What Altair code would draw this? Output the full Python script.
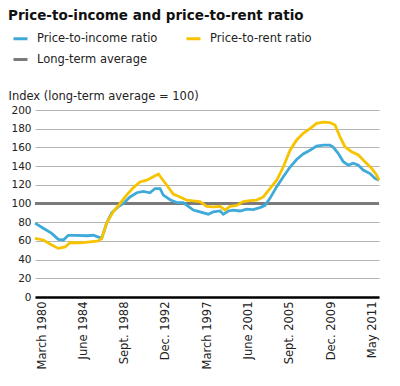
import altair as alt
import pandas as pd

# Quarter index: 0 = March 1980, 17 quarters between labelled ticks
income_q = [-2.9, 0.5, 4, 6.7, 8.8, 10.8, 14.3, 18.4, 21.1, 23.2, 24.6, 26.6, 28.7, 31.4, 33.5,
            36.2, 39, 41.7, 44.4, 46.5, 48.6, 49.9, 52.7, 55.4, 58.1, 60.2, 62.3, 65, 68.4, 70.5,
            73.3, 74.6, 76.7, 78.7, 81.5, 84.2, 86.9, 89.7, 91.8, 93.8, 96.6, 99.3, 102.1, 104.8,
            107.5, 110.3, 113, 115.8, 118.5, 119.9, 121.9, 124, 126.1, 128.1, 130.2, 132.2, 135,
            137, 138.7]
income_v = [79, 73.5, 68, 61.7, 61, 66, 66, 65.5, 66, 64, 63, 79, 90, 96.6, 100,
            107, 111.5, 113, 111.5, 116, 116, 109, 104, 101, 101, 97, 93, 91, 88.6, 91,
            92, 88.6, 92, 93, 92, 94, 93.5, 95.6, 98, 105.5, 118, 128.7, 139, 147,
            153, 157, 161.5, 162.5, 162.5, 160, 153.6, 144.7, 141, 143, 141, 135.8, 132,
            127, 125]

rent_q = [-2.9, 0.5, 4, 6.7, 9.5, 11.5, 15.6, 19.8, 23.2, 24.6, 26.6, 29.3, 32.1, 34.8, 37.6,
          40.3, 43.1, 45.8, 47.9, 49.2, 51.3, 54, 56.8, 59.5, 62.3, 65, 67.8, 70.5, 73.3, 75.3,
          77.4, 80.1, 82.8, 85.6, 88.3, 91.1, 93.8, 96.6, 99.3, 102.1, 104.8, 107.5, 110.3, 113,
          115.8, 118.5, 120.6, 122.6, 124.7, 127.4, 130.2, 132.9, 135.7, 137.7, 138.7]
rent_v = [62.7, 61, 55.6, 52, 53.5, 58, 58, 59, 60, 62.7, 79, 91, 100, 109, 117,
          123, 125, 128.7, 131.5, 127, 119.8, 110, 107, 103.7, 102.7, 102, 97, 96.5, 97, 93,
          97, 98, 102, 103, 103.7, 107, 116, 125, 139, 157, 168, 175, 180, 185.7,
          187, 186.6, 184, 171.4, 160.7, 155.4, 151.9, 144.7, 137.6, 130.5, 125]

avg_q = [-2.9, 138.7]
avg_v = [100, 100]

tick_q = [0, 17, 34, 51, 68, 85, 102, 119, 136]
tick_labels = ["March 1980", "June 1984", "Sept. 1988", "Dec. 1992",
               "March 1997", "June 2001", "Sept. 2005", "Dec. 2009", "May 2011"]

series = ["Price-to-income ratio", "Price-to-rent ratio", "Long-term average"]
colors = ["#3fa9d8", "#f7c300", "#7a7a7a"]

df = pd.concat([
    pd.DataFrame({"q": income_q, "v": income_v, "s": series[0]}),
    pd.DataFrame({"q": rent_q, "v": rent_v, "s": series[1]}),
])
df_avg = pd.DataFrame({"q": avg_q, "v": avg_v, "s": series[2]})

label_expr = "[" + ",".join("'%s'" % t for t in tick_labels) + "][indexof([" + \
    ",".join(str(t) for t in tick_q) + "], datum.value)]"

FONT = "DejaVu Sans"

x = alt.X("q:Q", scale=alt.Scale(domain=[-2.9, 138.7], nice=False, zero=False),
          axis=alt.Axis(values=tick_q, labelExpr=label_expr, labelAngle=-90, title=None,
                        grid=False, ticks=False, domainColor="#000000", domainWidth=2.5,
                        labelFont=FONT, labelFontSize=11.5, labelColor="#222222",
                        labelPadding=4, labelOverlap=False, labelFlush=False))
y = alt.Y("v:Q", scale=alt.Scale(domain=[0, 200], nice=False),
          axis=alt.Axis(values=list(range(0, 201, 20)), title="Index (long-term average = 100)",
                        titleAngle=0, titleAlign="left", titleBaseline="middle",
                        titleX=-27, titleY=-14, titleFont=FONT, titleFontSize=11.5,
                        titleFontWeight="normal", titleColor="#222222",
                        domain=False, ticks=False, labelFont=FONT, labelFontSize=10.5,
                        labelColor="#222222", labelPadding=4,
                        gridColor="#b4b4b4", gridWidth=1))
color = alt.Color("s:N", scale=alt.Scale(domain=series, range=colors),
                  legend=alt.Legend(title=None, orient="none", legendX=-23, legendY=-80,
                                    values=series, direction="horizontal",
                                    columns=2, columnPadding=22, rowPadding=6,
                                    symbolType="stroke", symbolSize=196, symbolStrokeWidth=3,
                                    labelFont=FONT, labelFontSize=11.5, labelColor="#222222",
                                    labelOffset=8, padding=0))

avg = alt.Chart(df_avg).mark_line(strokeWidth=3).encode(x=x, y=y, color=color)
lines = alt.Chart(df).mark_line(strokeWidth=2.8).encode(x=x, y=y, color=color,
                                                        detail="s:N")

chart = alt.layer(avg, lines).properties(
    width=344, height=187,
    padding={"left": 27, "top": 102, "right": 13, "bottom": 78},
    autosize=alt.AutoSizeParams(type="none"),
    title=alt.TitleParams("Price-to-income and price-to-rent ratio", anchor="start",
                          frame="group", dx=-27, dy=-4, font=FONT, fontSize=13.5,
                          fontWeight="bold", color="#111111"),
    background="white",
).configure_view(stroke=None)

chart.save("out.html", embed_options={"renderer": "svg", "actions": False})
